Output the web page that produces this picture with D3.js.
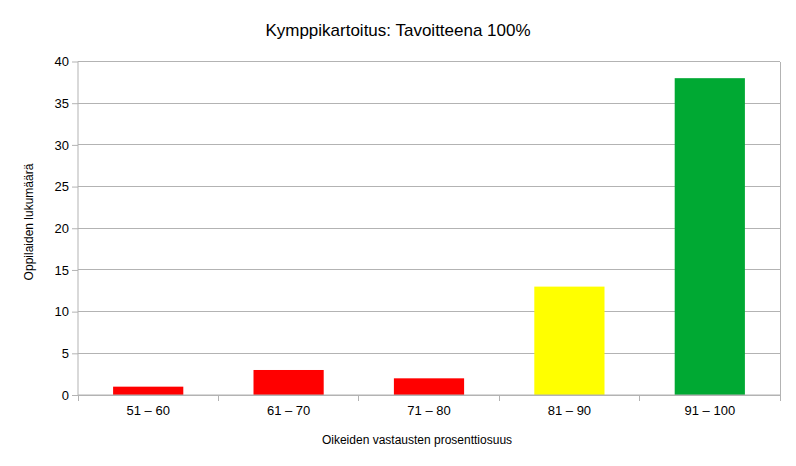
<!DOCTYPE html>
<html>
<head>
<meta charset="utf-8">
<script src="https://cdn.jsdelivr.net/npm/d3@7"></script>
<style>
  body { margin: 0; background: #fff; }
  svg { font-family: "Liberation Sans", Arial, sans-serif; }
</style>
</head>
<body>
<svg width="796" height="466"></svg>
<script>
const categories = ['51 – 60', '61 – 70', '71 – 80', '81 – 90', '91 – 100'];
const counts = [1, 3, 2, 13, 38];
const barColors = ['#ff0000', '#ff0000', '#ff0000', '#ffff00', '#00a933'];
const yTicks = [0, 5, 10, 15, 20, 25, 30, 35, 40];

const svg = d3.select('svg');
const margin = { top: 61.5, right: 16, bottom: 71, left: 78 };
const width = 796 - margin.left - margin.right;
const height = 466 - margin.top - margin.bottom;

const g = svg.append('g').attr('transform', `translate(${margin.left},${margin.top})`);

const x = d3.scaleBand().domain(categories).range([0, width]).paddingInner(0.5).paddingOuter(0.25);
const xb = d3.scaleBand().domain(categories).range([0, width]);
const y = d3.scaleLinear().domain([0, 40]).range([height, 0]);

// gridlines
g.selectAll('.grid').data(yTicks).join('line')
    .attr('x1', 0).attr('x2', width)
    .attr('y1', d => y(d)).attr('y2', d => y(d))
    .attr('stroke', '#b3b3b3').attr('stroke-width', 1)
    .attr('shape-rendering', 'crispEdges');

// right border
g.append('line').attr('x1', width).attr('x2', width).attr('y1', 0).attr('y2', height)
    .attr('stroke', '#b3b3b3').attr('shape-rendering', 'crispEdges');

// bars
g.selectAll('.bar').data(counts).join('rect')
    .attr('x', (d, i) => x(categories[i]))
    .attr('width', x.bandwidth())
    .attr('y', d => y(d))
    .attr('height', d => height - y(d))
    .attr('fill', (d, i) => barColors[i]);

// y axis
const yAxis = g.append('g').call(d3.axisLeft(y).tickValues(yTicks).tickSize(6).tickPadding(3));
yAxis.select('.domain').attr('stroke', '#b3b3b3').attr('d', `M0,0V${height}`);
yAxis.selectAll('.tick line').attr('stroke', '#b3b3b3');
yAxis.selectAll('text').attr('font-size', 13).attr('fill', '#000').attr('font-family', 'Liberation Sans');

// x axis
const xAxis = g.append('g').attr('transform', `translate(0,${height})`)
    .call(d3.axisBottom(xb).tickSize(0).tickPadding(11));
xAxis.select('.domain').attr('stroke', '#b3b3b3').attr('d', `M0,0H${width}`);
xAxis.selectAll('text').attr('font-size', 13).attr('fill', '#000').attr('font-family', 'Liberation Sans');
// category boundary ticks
g.selectAll('.xtick').data(d3.range(categories.length + 1)).join('line')
    .attr('x1', i => i * xb.step()).attr('x2', i => i * xb.step())
    .attr('y1', height).attr('y2', height + 6)
    .attr('stroke', '#b3b3b3').attr('shape-rendering', 'crispEdges');

// title
svg.append('text').attr('x', 398).attr('y', 36).attr('text-anchor', 'middle')
    .attr('font-size', 17).text('Kymppikartoitus: Tavoitteena 100%');

// axis titles
svg.append('text').attr('x', 417).attr('y', 444).attr('text-anchor', 'middle')
    .attr('font-size', 12).text('Oikeiden vastausten prosenttiosuus');
svg.append('text').attr('transform', 'translate(33,222) rotate(-90)')
    .attr('text-anchor', 'middle').attr('font-size', 12).text('Oppilaiden lukumäärä');
</script>
</body>
</html>
